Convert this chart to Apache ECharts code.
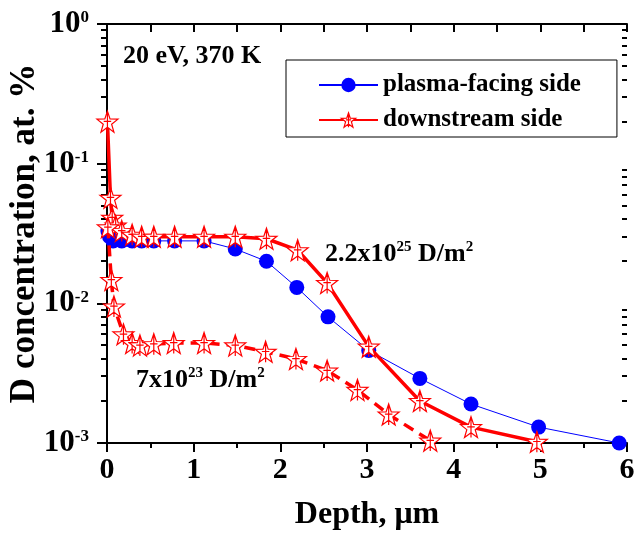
<!DOCTYPE html>
<html>
<head>
<meta charset="utf-8">
<script src="https://cdn.jsdelivr.net/npm/echarts@6/dist/echarts.min.js"></script>
<style>html,body{margin:0;padding:0;background:#fff}#c{width:637px;height:533px}</style>
</head>
<body>
<div id="c"></div>
<script>
// ---- data (depth in µm, D concentration in at.%) ----
const depthPlasma = [0.01, 0.03, 0.07, 0.17, 0.29, 0.40, 0.54, 0.78, 1.12, 1.48, 1.84, 2.19, 2.55, 3.02, 3.61, 4.20, 4.98, 5.91];
const concPlasma  = [0.033, 0.030, 0.028, 0.028, 0.028, 0.028, 0.028, 0.028, 0.028, 0.0245, 0.020, 0.013, 0.008, 0.0046, 0.0029, 0.0019, 0.0013, 0.001];

const depthDownHigh = [0.005, 0.04, 0.06, 0.10, 0.17, 0.29, 0.40, 0.54, 0.78, 1.12, 1.48, 1.84, 2.20, 2.54, 3.02, 3.61, 4.20, 4.96];
const concDownHigh  = [0.2, 0.057, 0.041, 0.036, 0.033, 0.031, 0.030, 0.030, 0.030, 0.030, 0.030, 0.029, 0.024, 0.014, 0.0049, 0.0020, 0.0013, 0.00102];

const depthDownLow = [0.01, 0.05, 0.08, 0.19, 0.29, 0.38, 0.54, 0.77, 1.12, 1.48, 1.83, 2.18, 2.54, 2.89, 3.25, 3.73];
const concDownLow  = [0.035, 0.0147, 0.0095, 0.0060, 0.0052, 0.0050, 0.0051, 0.0052, 0.0052, 0.0050, 0.0045, 0.0040, 0.0033, 0.0024, 0.0016, 0.00104];

const seriesNames = ['plasma-facing side', 'downstream side'];
const xTickValues = [0, 1, 2, 3, 4, 5, 6];
const yDecades = [0.001, 0.01, 0.1, 1];
const annotation1 = '20 eV, 370 K';

const FONT = 'Liberation Serif';
const pair = (xs, ys) => xs.map((x, i) => [x, ys[i]]);
const STAR = 'path://M50 2L61.8 35.8L97.6 36.6L69 58.2L79.4 92.5L50 72L20.6 92.5L31 58.2L2.4 36.6L38.2 35.8Z M50 2L50 92.5 M33 46L67 46';
const starStyle = {color: '#ffffff', borderColor: '#ff0000', borderWidth: 1.2};

const chart = echarts.init(document.getElementById('c'), null, {renderer: 'canvas'});
const G = {left: 107, right: 10, top: 24, bottom: 90};

const option = {
  animation: false,
  backgroundColor: '#fff',
  grid: {left: G.left, right: G.right, top: G.top, bottom: G.bottom, containLabel: false, outerBoundsMode: 'none'},
  legend: {
    orient: 'vertical', left: 286, top: 60,
    padding: [12, 36, 4, 32], itemGap: 9, itemWidth: 59, itemHeight: 18,
    backgroundColor: '#fff', borderColor: '#000', borderWidth: 1, borderRadius: 0,
    textStyle: {fontSize: 25, fontWeight: 'bold', fontFamily: FONT, color: '#000', lineHeight: 26},
    data: [
      {name: seriesNames[0]},
      {name: seriesNames[1], itemStyle: starStyle}
    ]
  },
  xAxis: [{
    type: 'value', min: 0, max: 6, interval: 1, position: 'bottom',
    name: 'Depth, μm', nameLocation: 'middle', nameGap: 56, nameMoveOverlap: false,
    nameTextStyle: {fontSize: 32, fontWeight: 'bold', fontFamily: FONT, color: '#000'},
    axisLine: {show: true, lineStyle: {color: '#000', width: 2}},
    axisTick: {show: true, inside: false, length: 9, lineStyle: {width: 2, color: '#000'}},
    minorTick: {show: true, splitNumber: 2, length: 5, lineStyle: {width: 2, color: '#000'}},
    axisLabel: {fontSize: 30, fontWeight: 'bold', fontFamily: FONT, color: '#000', margin: 12,
      formatter: v => xTickValues.includes(v) ? String(v) : ''},
    splitLine: {show: false}
  }, {
    type: 'value', min: 0, max: 6, interval: 0.5, position: 'top',
    axisLine: {show: true, lineStyle: {color: '#000', width: 2}},
    axisTick: {show: true, inside: true, length: 8, lineStyle: {width: 2, color: '#000'}},
    axisLabel: {show: false}, splitLine: {show: false}
  }],
  yAxis: [{
    type: 'log', logBase: 10, min: 0.001, max: 1, position: 'left',
    name: 'D concentration, at. %', nameLocation: 'middle', nameGap: 65, nameMoveOverlap: false,
    nameTextStyle: {fontSize: 35, fontWeight: 'bold', fontFamily: FONT, color: '#000'},
    axisLine: {show: true, lineStyle: {color: '#000', width: 2}},
    axisTick: {show: true, inside: false, length: 10, lineStyle: {width: 2, color: '#000'}},
    axisLabel: {
      margin: 18,
      formatter: v => '{b|10}{s|' + Math.round(Math.log10(v)) + '}',
      rich: {
        b: {fontSize: 31, fontWeight: 'bold', fontFamily: FONT, color: '#000'},
        s: {fontSize: 17, fontWeight: 'bold', fontFamily: FONT, color: '#000', padding: [0, 0, 12, 0]}
      }
    },
    splitLine: {show: false}
  }, {
    type: 'log', logBase: 10, min: 0.001, max: 1, position: 'right',
    axisLine: {show: true, lineStyle: {color: '#000', width: 2}},
    axisTick: {show: true, inside: true, length: 8, lineStyle: {width: 2, color: '#000'}},
    axisLabel: {show: false}, splitLine: {show: false}
  }],
  series: [{
    name: seriesNames[0], type: 'line', xAxisIndex: 0, yAxisIndex: 0,
    data: pair(depthPlasma, concPlasma),
    symbol: 'circle', symbolSize: 15, z: 3, smooth: false,
    lineStyle: {color: '#0000ff', width: 1},
    itemStyle: {color: '#0000ff', borderWidth: 0}
  }, {
    name: seriesNames[1], type: 'line', xAxisIndex: 0, yAxisIndex: 0,
    data: pair(depthDownHigh, concDownHigh),
    symbol: STAR, symbolSize: 21, z: 4, smooth: false,
    lineStyle: {color: '#ff0000', width: 3.5},
    itemStyle: starStyle
  }, {
    name: seriesNames[1] + ' (7x10^23)', type: 'line', xAxisIndex: 0, yAxisIndex: 0,
    data: pair(depthDownLow, concDownLow),
    symbol: STAR, symbolSize: 21, z: 4, smooth: false,
    lineStyle: {color: '#ff0000', width: 3.5, type: [11, 7]},
    itemStyle: starStyle
  }],
  graphic: [{
    type: 'text', id: 'ann1', x: 123, y: 56,
    style: {text: annotation1, font: 'bold 26px "Liberation Serif"', fill: '#000', verticalAlign: 'middle'}
  }, {
    type: 'text', id: 'ann2', x: 325, y: 254,
    style: {
      text: '{b|2.2x10}{s|25}{b| D/m}{s|2}', verticalAlign: 'middle',
      rich: {
        b: {fontSize: 26, fontWeight: 'bold', fontFamily: FONT, fill: '#000'},
        s: {fontSize: 15, fontWeight: 'bold', fontFamily: FONT, fill: '#000', padding: [0, 0, 13, 0]}
      }
    }
  }, {
    type: 'text', id: 'ann3', x: 136, y: 380,
    style: {
      text: '{b|7x10}{s|23}{b| D/m}{s|2}', verticalAlign: 'middle',
      rich: {
        b: {fontSize: 26, fontWeight: 'bold', fontFamily: FONT, fill: '#000'},
        s: {fontSize: 15, fontWeight: 'bold', fontFamily: FONT, fill: '#000', padding: [0, 0, 13, 0]}
      }
    }
  }]
};
chart.setOption(option);

// minor ticks of the log axis at 2..9 x 10^k, placed through the axis scale
const minor = [];
const xl = chart.convertToPixel({xAxisIndex: 0}, 0);
const xr = chart.convertToPixel({xAxisIndex: 0}, 6);
for (const d of yDecades.slice(0, 3)) {
  for (let m = 2; m <= 9; m++) {
    const y = Math.round(chart.convertToPixel({yAxisIndex: 0}, m * d));
    minor.push({type: 'line', silent: true, shape: {x1: xl - 6, y1: y, x2: xl, y2: y}, style: {stroke: '#000', lineWidth: 2}});
    minor.push({type: 'line', silent: true, shape: {x1: xr - 5, y1: y, x2: xr, y2: y}, style: {stroke: '#000', lineWidth: 2}});
  }
}
chart.setOption({graphic: option.graphic.concat(minor)});
</script>
</body>
</html>
